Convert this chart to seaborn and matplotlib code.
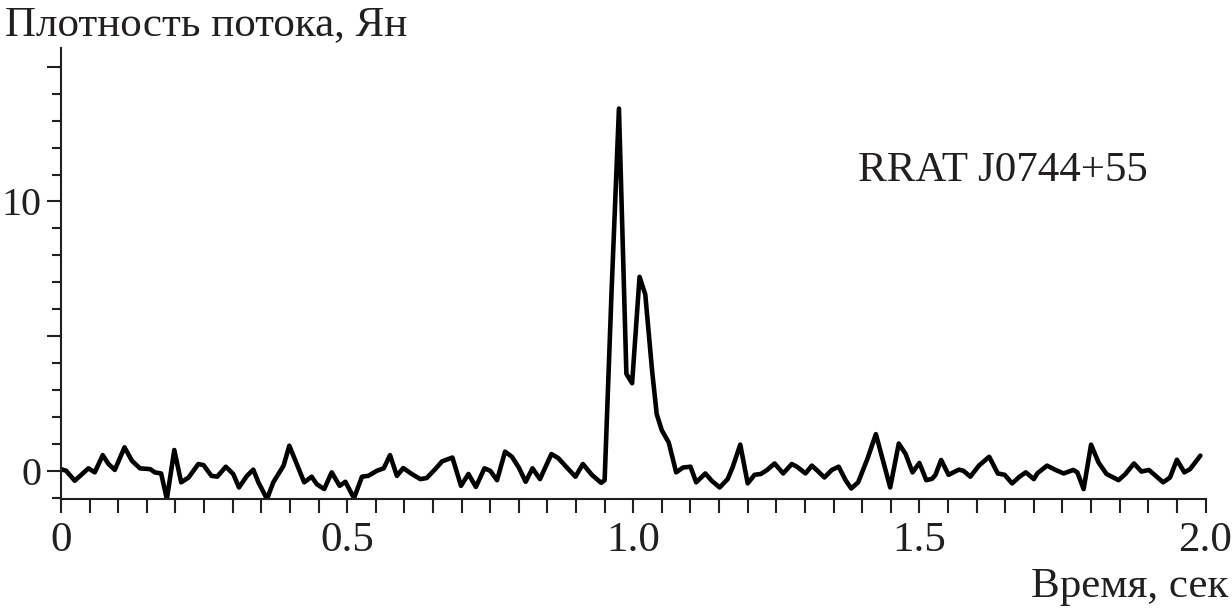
import numpy as np
import pandas as pd
import matplotlib
matplotlib.use("Agg")
import matplotlib.pyplot as plt
from matplotlib.ticker import MultipleLocator, FixedLocator
import seaborn as sns

# time (s) and flux density (Jy)
time_s = [0.000, 0.009, 0.024, 0.048, 0.059, 0.073, 0.083, 0.094, 0.111, 0.124,
          0.138, 0.156, 0.164, 0.175, 0.185, 0.198, 0.210, 0.223, 0.240, 0.249,
          0.263, 0.273, 0.288, 0.301, 0.311, 0.325, 0.336, 0.345, 0.360, 0.371,
          0.389, 0.399, 0.412, 0.425, 0.438, 0.447, 0.460, 0.473, 0.487, 0.497,
          0.512, 0.526, 0.537, 0.552, 0.564, 0.575, 0.587, 0.598, 0.613, 0.628,
          0.639, 0.654, 0.666, 0.684, 0.699, 0.712, 0.725, 0.740, 0.750, 0.762,
          0.776, 0.788, 0.800, 0.812, 0.824, 0.837, 0.857, 0.869, 0.884, 0.899,
          0.912, 0.928, 0.944, 0.950, 0.962, 0.975, 0.988, 0.998, 1.011, 1.021,
          1.033, 1.041, 1.050, 1.062, 1.075, 1.087, 1.100, 1.110, 1.126, 1.137,
          1.151, 1.165, 1.174, 1.187, 1.200, 1.212, 1.223, 1.234, 1.247, 1.262,
          1.277, 1.286, 1.301, 1.312, 1.322, 1.334, 1.347, 1.359, 1.371, 1.381,
          1.393, 1.409, 1.424, 1.438, 1.449, 1.464, 1.476, 1.488, 1.500, 1.512,
          1.522, 1.528, 1.538, 1.551, 1.569, 1.577, 1.589, 1.604, 1.622, 1.637,
          1.649, 1.662, 1.675, 1.686, 1.700, 1.706, 1.723, 1.738, 1.752, 1.769,
          1.776, 1.787, 1.800, 1.813, 1.827, 1.839, 1.848, 1.860, 1.875, 1.888,
          1.901, 1.913, 1.926, 1.938, 1.950, 1.963, 1.973, 1.991]
flux_jy = [0.06, 0.00, -0.37, 0.09, -0.06, 0.58, 0.25, 0.03, 0.87, 0.37,
           0.09, 0.06, -0.06, -0.10, -1.05, 0.77, -0.43, -0.25, 0.25, 0.21,
           -0.19, -0.22, 0.15, -0.12, -0.62, -0.19, 0.04, -0.43, -1.05, -0.43,
           0.19, 0.93, 0.25, -0.43, -0.22, -0.50, -0.68, -0.06, -0.56, -0.41,
           -1.02, -0.22, -0.19, 0.00, 0.09, 0.58, -0.19, 0.10, -0.12, -0.31,
           -0.27, 0.06, 0.35, 0.49, -0.56, -0.12, -0.60, 0.09, 0.00, -0.35,
           0.71, 0.52, 0.12, -0.41, 0.09, -0.31, 0.62, 0.47, 0.12, -0.22,
           0.25, -0.16, -0.45, -0.35, 6.6, 13.45, 3.6, 3.25, 7.2, 6.55,
           3.7, 2.1, 1.5, 1.05, -0.06, 0.12, 0.15, -0.43, -0.10, -0.37,
           -0.62, -0.31, 0.15, 0.97, -0.47, -0.15, -0.12, 0.03, 0.27, -0.10,
           0.25, 0.15, -0.10, 0.19, 0.00, -0.25, 0.03, 0.15, -0.35, -0.66,
           -0.43, 0.43, 1.36, 0.25, -0.62, 1.01, 0.62, -0.06, 0.29, -0.35,
           -0.30, -0.16, 0.40, -0.15, 0.04, 0.00, -0.22, 0.19, 0.52, -0.10,
           -0.15, -0.47, -0.22, -0.06, -0.31, -0.10, 0.19, 0.03, -0.10, 0.03,
           -0.06, -0.68, 0.97, 0.31, -0.12, -0.25, -0.35, -0.12, 0.27, -0.03,
           0.03, -0.19, -0.43, -0.25, 0.41, -0.06, 0.06, 0.56]

x_ticks = [0, 0.5, 1.0, 1.5, 2.0]
x_ticklabels = ["0", "0.5", "1.0", "1.5", "2.0"]
y_major = [0, 5, 10, 15]
y_ticklabels = ["0", "", "10", ""]

df = pd.DataFrame({"t": time_s, "flux": flux_jy})

sns.set_style("ticks")
plt.rcParams["font.family"] = ["Liberation Serif", "DejaVu Serif"]
ink = "#231f20"

fig = plt.figure(figsize=(12.32, 6.12), dpi=100)
ax = fig.add_axes((0.0495, 0.1846, 0.9290, 0.737))

sns.lineplot(data=df, x="t", y="flux", color="black", lw=3.3, ax=ax, sort=False)

ax.set_xlim(0, 2.0)
ax.set_ylim(-1.05, 15.7)
ax.xaxis.set_major_locator(FixedLocator(x_ticks))
ax.set_xticklabels(x_ticklabels)
ax.xaxis.set_minor_locator(MultipleLocator(0.05))
ax.yaxis.set_major_locator(FixedLocator(y_major))
ax.set_yticklabels(y_ticklabels)
ax.yaxis.set_minor_locator(MultipleLocator(1))

ax.tick_params(axis="x", which="both", direction="out", length=10, width=1.5,
               color=ink, labelsize=31, pad=6, labelcolor=ink)
ax.tick_params(axis="y", which="major", direction="out", length=10, width=1.5,
               color=ink, labelsize=29, pad=4, labelcolor=ink)
ax.tick_params(axis="y", which="minor", direction="out", length=6.5, width=1.5,
               color=ink)

for side in ["top", "right"]:
    ax.spines[side].set_visible(False)
for side in ["left", "bottom"]:
    ax.spines[side].set_linewidth(1.5)
    ax.spines[side].set_color(ink)

ax.set_xlabel("")
ax.set_ylabel("")
fig.text(0.004, 0.943, "Плотность потока, Ян", fontsize=31, color=ink,
         ha="left", va="baseline")
fig.text(0.997, 0.025, "Время, сек", fontsize=31, color=ink,
         ha="right", va="baseline")
ax.text(1.393, 10.75, "RRAT J0744+55", fontsize=31, color=ink,
        ha="left", va="baseline")

fig.savefig("out.png", dpi=100)
